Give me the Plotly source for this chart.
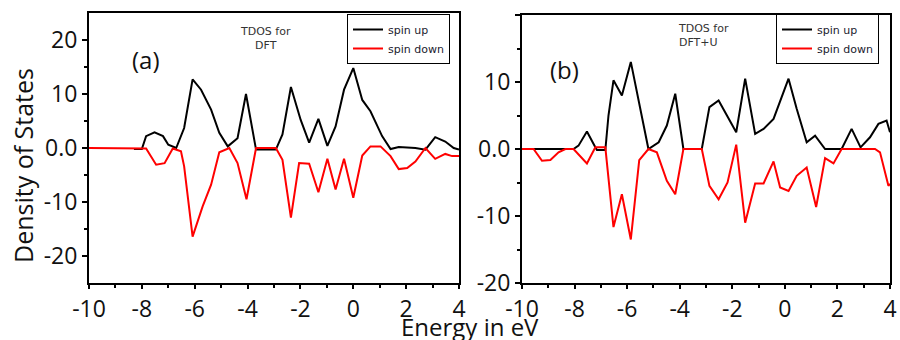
import plotly.graph_objects as go

# Panel (a) DFT
a_up_x = [-8.3, -8.0, -7.84, -7.52, -7.2, -7.0, -6.7, -6.4, -6.08, -5.76, -5.38, -5.07, -4.75, -4.38, -4.06, -3.87,
          -3.68, -2.93, -2.68, -2.36, -1.99, -1.67, -1.32, -0.98, -0.67, -0.35, 0.0, 0.34, 0.65, 1.09, 1.41, 1.72,
          2.35, 2.73, 3.1, 3.48, 3.8, 4.0]
a_up_y = [-0.2, -0.2, 2.2, 2.9, 2.2, 0.6, 0.0, 3.7, 12.7, 10.8, 7.1, 2.8, 0.3, 1.8, 10.0, 5.2,
          -0.3, -0.3, 2.5, 11.3, 5.2, 1.0, 5.4, 0.4, 4.0, 10.8, 14.8, 8.9, 6.8, 2.2, -0.2, 0.2,
          0.0, -0.3, 2.0, 1.2, 0.0, -0.3]
a_dn_x = [-10.0, -8.0, -7.84, -7.46, -7.14, -6.83, -6.52, -6.4, -6.08, -5.7, -5.38, -5.07, -4.69, -4.38, -4.04,
          -3.68, -2.93, -2.68, -2.36, -2.05, -1.67, -1.32, -0.98, -0.67, -0.35, 0.0, 0.34, 0.65, 1.03, 1.41,
          1.72, 2.04, 2.35, 2.73, 3.1, 3.48, 3.74, 4.0]
a_dn_y = [0.0, 0.0, -0.1, -3.1, -2.8, -0.1, -0.6, -3.4, -16.4, -10.8, -6.8, -0.8, 0.0, -2.8, -9.5,
          0.0, 0.0, -2.2, -12.9, -2.8, -2.9, -8.2, -2.0, -7.7, -2.0, -9.2, -1.4, 0.3, 0.3, -1.5,
          -3.9, -3.7, -2.5, 0.0, -2.0, -1.1, -1.5, -1.5]

# Panel (b) DFT+U
b_up_x = [-10.0, -8.04, -7.85, -7.53, -7.21, -7.15, -6.83, -6.71, -6.52, -6.2, -5.86, -5.5, -5.19, -4.8, -4.49,
          -4.17, -3.86, -3.16, -2.87, -2.52, -2.18, -1.85, -1.51, -1.13, -0.81, -0.43, 0.14, 0.45, 0.83, 1.15,
          1.53, 2.16, 2.54, 2.88, 3.24, 3.56, 3.87, 4.0]
b_up_y = [0.0, 0.0, 0.5, 2.6, 0.25, -0.15, -0.15, 5.0, 10.25, 8.0, 13.0, 5.75, 0.0, 1.0, 3.5,
          8.25, 0.0, 0.0, 6.25, 7.25, 4.75, 2.5, 10.5, 2.25, 3.0, 4.5, 10.5, 6.0, 1.0, 2.0,
          0.0, 0.0, 3.0, 0.25, 1.75, 3.75, 4.25, 2.5]
b_dn_x = [-10.0, -9.56, -9.24, -8.92, -8.61, -8.35, -8.04, -7.53, -7.21, -6.83, -6.52, -6.2, -5.86, -5.54, -5.19,
          -4.87, -4.49, -4.17, -3.86, -3.16, -2.87, -2.52, -2.18, -1.85, -1.51, -1.13, -0.81, -0.43, -0.18,
          0.14, 0.45, 0.83, 1.19, 1.53, 1.85, 2.16, 3.43, 3.62, 3.94, 4.0]
b_dn_y = [0.0, 0.0, -1.75, -1.65, -0.5, 0.0, 0.0, -2.15, 0.25, 0.25, -11.65, -6.75, -13.5, -1.65, 0.0,
          -0.5, -4.75, -6.75, 0.0, 0.0, -5.5, -7.5, -5.0, 0.65, -11.0, -5.15, -5.15, -1.85, -5.75,
          -6.25, -4.0, -2.75, -8.65, -1.35, -2.15, 0.0, 0.0, -0.5, -5.5, -5.2]

x_ticks = [-10, -8, -6, -4, -2, 0, 2, 4]
x_ticktext = ["-10", "-8", "-6", "-4", "-2", "0", "2", "4"]
x_minor = [-9, -7, -5, -3, -1, 1, 3]
y_ticks = [-20, -10, 0, 10, 20]
y_ticktext = ["-20", "-10", "0.0", "10", "20"]
y_minor = [-15, -5, 5, 15]

series_names = ["spin up", "spin down"]
panel_labels = ["(a)", "(b)"]
panel_notes = ["TDOS for<br>DFT", "TDOS for<br>DFT+U"]

BLACK = "#000000"
RED = "#ff0000"
FONT = "Open Sans"
SMALL = "DejaVu Sans"

fig = go.Figure()
fig.add_trace(go.Scatter(x=a_up_x, y=a_up_y, mode="lines", line=dict(color=BLACK, width=2),
                         name=series_names[0], xaxis="x", yaxis="y", legend="legend"))
fig.add_trace(go.Scatter(x=a_dn_x, y=a_dn_y, mode="lines", line=dict(color=RED, width=2),
                         name=series_names[1], xaxis="x", yaxis="y", legend="legend"))
fig.add_trace(go.Scatter(x=b_up_x, y=b_up_y, mode="lines", line=dict(color=BLACK, width=2),
                         name=series_names[0], xaxis="x2", yaxis="y2", legend="legend2"))
fig.add_trace(go.Scatter(x=b_dn_x, y=b_dn_y, mode="lines", line=dict(color=RED, width=2),
                         name=series_names[1], xaxis="x2", yaxis="y2", legend="legend2"))

tickfont = dict(family=FONT, size=23, color="#111111")

def xaxis(domain, anchor):
    return dict(domain=domain, anchor=anchor, range=[-10, 4], tickmode="array", tickvals=x_ticks,
                ticktext=x_ticktext, automargin=False,
                ticks="outside", ticklen=4, tickwidth=2, tickcolor=BLACK, showline=True, linewidth=2,
                linecolor=BLACK, mirror=True, showgrid=False, zeroline=False, tickfont=tickfont,
                minor=dict(ticks="outside", ticklen=3, tickwidth=1.5, tickcolor=BLACK, tickmode="array",
                           tickvals=x_minor, showgrid=False))

def yaxis(domain, anchor, rng):
    return dict(domain=domain, anchor=anchor, range=rng, tickmode="array", tickvals=y_ticks,
                ticktext=y_ticktext, automargin=False,
                ticks="outside", ticklen=5, tickwidth=2, tickcolor=BLACK, showline=True, linewidth=2,
                linecolor=BLACK, mirror=True, showgrid=False, zeroline=False, tickfont=tickfont,
                minor=dict(ticks="outside", ticklen=3, tickwidth=1.5, tickcolor=BLACK, tickmode="array",
                           tickvals=y_minor, showgrid=False))

W, H = 900, 340
ya_dom = [1 - 283 / H, 1 - 13 / H]
yb_dom = [1 - 283 / H, 1 - 15 / H]

legend_style = dict(font=dict(family=SMALL, size=11, color="#1a1a2e"), bgcolor="white",
                    bordercolor=BLACK, borderwidth=1, xanchor="left", yanchor="top",
                    itemwidth=30, tracegroupgap=0)

fig.update_layout(
    width=W, height=H, margin=dict(l=0, r=0, t=0, b=0, pad=0, autoexpand=False),
    paper_bgcolor="white", plot_bgcolor="white",
    xaxis=xaxis([89 / W, 459 / W], "y"),
    yaxis=yaxis(ya_dom, "x", [-25, 25]),
    xaxis2=xaxis([522 / W, 890 / W], "y2"),
    yaxis2=yaxis(yb_dom, "x2", [-20, 20]),
    legend=dict(x=347 / W, y=1 - 14 / H, **legend_style),
    legend2=dict(x=776 / W, y=1 - 14 / H, **legend_style),
    showlegend=True,
    annotations=[
        dict(text=panel_labels[0], xref="x", yref="y", x=-7.85, y=16.3, showarrow=False,
             xanchor="center", yanchor="middle", font=dict(family=FONT, size=24, color="#111111")),
        dict(text=panel_labels[1], xref="x2", yref="y2", x=-8.37, y=11.9, showarrow=False,
             xanchor="center", yanchor="middle", font=dict(family=FONT, size=24, color="#111111")),
        dict(text=panel_notes[0], xref="x", yref="y", x=-3.32, y=20.3, showarrow=False, align="center",
             xanchor="center", yanchor="middle", font=dict(family=SMALL, size=11, color="#333333")),
        dict(text=panel_notes[1], xref="x2", yref="y2", x=-4.14, y=16.9, showarrow=False, align="left",
             xanchor="left", yanchor="middle", font=dict(family=SMALL, size=11, color="#333333")),
        dict(text="Density of States", xref="paper", yref="paper", x=23 / W, y=1 - 166 / H,
             xanchor="center", yanchor="middle",
             textangle=-90, showarrow=False, font=dict(family=FONT, size=25, color="#111111")),
        dict(text="Energy in eV", xref="paper", yref="paper", x=470 / W, y=1 - 326 / H,
             xanchor="center", yanchor="middle",
             showarrow=False, font=dict(family=FONT, size=24, color="#111111")),
    ],
)

fig.write_html("out.html")
